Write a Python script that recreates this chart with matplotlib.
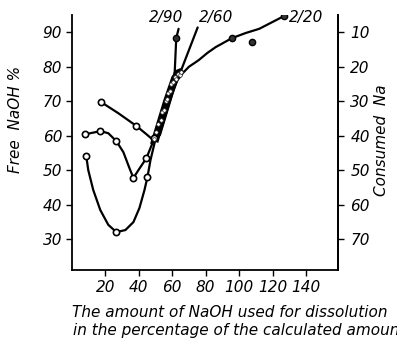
import matplotlib
matplotlib.use("Agg")
import matplotlib.pyplot as plt

plt.rcParams['font.family'] = ['DejaVu Sans']
plt.rcParams['font.style'] = 'italic'

# three starting curves (free NaOH % vs NaOH used, % of calculated)
low_x = [8.6, 9.8, 12.8, 17.0, 21.8, 26.6, 32.0, 36.8, 40.4, 43.4, 45.2, 47.0, 50.0, 53.0, 56.0, 59.0, 61.4]
low_y = [54.1, 50.0, 44.2, 38.4, 34.1, 32.0, 32.6, 34.9, 39.0, 44.2, 48.0, 52.9, 59.0, 64.0, 69.0, 73.5, 77.5]
low_mx = [8.6, 26.6, 45.2]
low_my = [54.1, 32.0, 48.0]

mid_x = [8.0, 17.0, 21.8, 26.6, 30.8, 34.4, 36.8, 39.8, 44.6, 49.4, 52.5, 55.0, 57.5, 60.0, 63.5]
mid_y = [60.4, 61.3, 60.7, 58.4, 55.2, 50.6, 47.7, 50.0, 53.5, 59.3, 63.5, 67.5, 71.5, 75.5, 78.0]
mid_mx = [8.0, 17.0, 26.6, 36.8, 44.6, 49.4]
mid_my = [60.4, 61.3, 58.4, 47.7, 53.5, 59.3]

up_x = [17.6, 27.8, 38.6, 44.6, 49.4, 52.0, 54.5, 57.0, 59.5, 62.0, 66.0]
up_y = [69.7, 66.5, 62.8, 60.4, 58.4, 62.0, 66.0, 70.0, 74.0, 76.5, 78.0]
up_mx = [17.6, 38.6]
up_my = [69.7, 62.8]

# repeated runs crowded along the common rising part
run1_x = [48.0, 50.5, 53.0, 55.5, 58.0, 60.5, 63.0]
run1_y = [58.0, 62.0, 66.0, 70.0, 73.5, 77.0, 78.0]
run2_x = [51.0, 53.5, 56.0, 58.5, 61.0, 63.5, 66.0]
run2_y = [58.5, 62.5, 66.5, 70.5, 74.0, 77.0, 78.5]
run3_x = [52.5, 55.0, 57.5, 60.0, 62.5, 65.0]
run3_y = [60.5, 64.5, 68.5, 72.5, 76.0, 77.5]
run4_x = [49.5, 52.0, 54.5, 57.0, 59.5, 62.0, 64.5]
run4_y = [59.0, 63.5, 67.5, 71.5, 75.0, 78.5, 79.0]
bundle_x = [49.0, 50.5, 51.5, 53.0, 54.0, 55.0, 56.0, 57.0, 57.5, 58.5, 59.5, 60.5, 61.5, 62.5, 63.5, 64.5, 65.5]
bundle_y = [59.0, 61.0, 63.5, 64.5, 67.0, 67.5, 70.0, 70.5, 72.5, 73.0, 75.0, 75.5, 77.0, 76.5, 78.0, 77.5, 78.5]

# branches at high consumption
b90_x = [61.4, 62.4, 63.8]
b90_y = [77.5, 88.3, 91.0]
b60_x = [64.4, 75.2]
b60_y = [77.8, 91.4]
b20_x = [66.0, 70.0, 75.8, 81.0, 86.0, 95.7, 104.0, 112.0, 120.0, 126.8]
b20_y = [78.0, 80.0, 81.9, 84.0, 85.7, 88.3, 89.8, 91.0, 93.0, 94.7]
top_mx = [62.4, 95.7, 107.6, 126.8]
top_my = [88.3, 88.3, 87.1, 94.7]

branch_labels = ["2/90", "2/60", "2/20"]
label_x = [56.6, 86.0, 140.0]
label_y = [94.2, 94.2, 94.2]

x_ticks = [20, 40, 60, 80, 100, 120, 140]
y_ticks = [30, 40, 50, 60, 70, 80, 90]
right_ticks = [10, 20, 30, 40, 50, 60, 70]

fig = plt.figure(figsize=(3.97, 3.42), dpi=100)
ax = fig.add_axes([0.181, 0.2105, 0.67, 0.7455])

lw = 1.6
for xs, ys in [(low_x, low_y), (mid_x, mid_y), (up_x, up_y), (b90_x, b90_y), (b60_x, b60_y), (b20_x, b20_y)]:
    ax.plot(xs, ys, color='black', lw=lw, solid_capstyle='round')
for xs, ys in [(run1_x, run1_y), (run2_x, run2_y), (run3_x, run3_y), (run4_x, run4_y)]:
    ax.plot(xs, ys, color='black', lw=2.4)

for xs, ys in [(low_mx, low_my), (mid_mx, mid_my), (up_mx, up_my)]:
    ax.plot(xs, ys, 'o', ms=4.5, mfc='white', mec='black', mew=1.2)
ax.plot(bundle_x, bundle_y, 'o', ms=2.6, mfc='white', mec='#222222', mew=0.5)
ax.plot(top_mx, top_my, 'o', ms=4.5, mfc='#333333', mec='black', mew=1.0)

for t, x, y in zip(branch_labels, label_x, label_y):
    ax.text(x, y, t, ha='center', va='center', fontsize=11)

ax.set_xlim(0, 159)
ax.set_ylim(21, 95)
ax.set_xticks(x_ticks)
ax.set_yticks(y_ticks)
ax.tick_params(direction='out', length=4, width=1.0, labelsize=11, pad=3)
ax.spines['top'].set_visible(False)
for s in ['left', 'right', 'bottom']:
    ax.spines[s].set_linewidth(1.3)

sec = ax.secondary_yaxis('right', functions=(lambda v: 100 - v, lambda v: 100 - v))
sec.set_yticks(right_ticks)
sec.tick_params(direction='out', length=4, width=1.0, labelsize=11, pad=5)
sec.spines['right'].set_linewidth(1.3)

fig.text(0.04, 0.65, "Free  NaOH %", rotation=90, ha='center', va='center', fontsize=11)
fig.text(0.96, 0.59, "Consumed  Na", rotation=90, ha='center', va='center', fontsize=11)
fig.text(0.181, 0.085, "The amount of NaOH used for dissolution", ha='left', va='center', fontsize=11)
fig.text(0.184, 0.035, "in the percentage of the calculated amount", ha='left', va='center', fontsize=11)

fig.savefig("out.png", dpi=100)
